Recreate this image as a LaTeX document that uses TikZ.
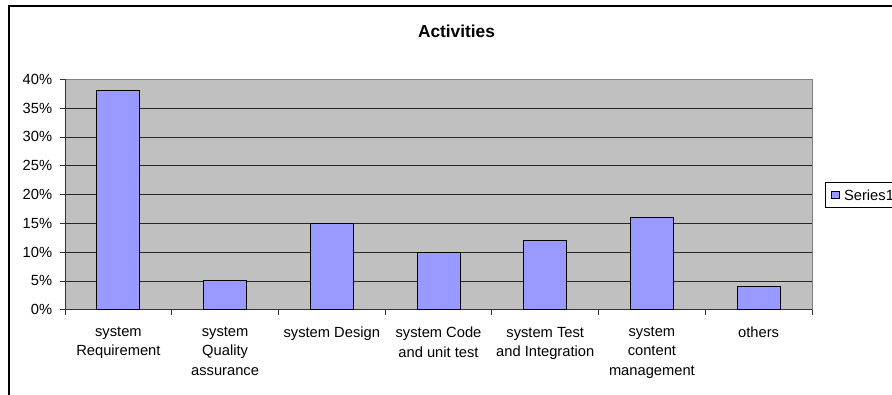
\documentclass[tikz,border=0pt]{standalone}
\usepackage{fontspec}
\setmainfont{Liberation Sans}
\usetikzlibrary{positioning}

\definecolor{plotgray}{HTML}{C0C0C0}
\definecolor{plotedge}{HTML}{808080}
\definecolor{barblue}{HTML}{9999FF}

\begin{document}
\begin{tikzpicture}
        [x=1pt,y=-1pt,
        bar/.style={draw=black,fill=barblue,line width=0.9pt},
        grid line/.style={draw=black!85,line width=0.8pt},
        cat label/.style={align=center,anchor=north,inner sep=0pt,font=\fontsize{14.7}{19.2}\selectfont,execute at begin node=\vphantom{A}},
        pct label/.style={anchor=east,inner sep=0pt,font=\fontsize{14.7}{16}\selectfont}]

    \clip (0,0) rectangle (892,394);
    \useasboundingbox (0,0) rectangle (892,394);
    \fill[white] (0,0) rectangle (892,394);

    % chart frame
    \draw[line width=1.4pt] (9,420) -- (9,6) -- (920,6);

    \node[anchor=base,inner sep=0pt,font=\bfseries\fontsize{17.3}{20}\selectfont] (title) at (456.5,37.3) {Activities};

    % plot area
    \draw[fill=plotgray,draw=plotedge,line width=0.9pt] (65,79.3) rectangle (812,309.7);
    \foreach \k in {1,...,7}
        \draw[grid line] (65,309.7-28.8*\k) -- (812,309.7-28.8*\k);

    % axes and ticks
    \draw[black!80,line width=0.8pt] (65,79.3) -- (65,309.7) -- (812,309.7);
    \foreach \k/\t in {0/0\%,1/5\%,2/10\%,3/15\%,4/20\%,5/25\%,6/30\%,7/35\%,8/40\%} {
        \draw[black!80,line width=0.8pt] (60,309.7-28.8*\k) -- (65,309.7-28.8*\k);
        \node[pct label] (p\k) at (52.3,309.7-28.8*\k) {\t};
    }
    \foreach \k in {0,...,7}
        \draw[black!80,line width=0.8pt] (65+106.71*\k,309.7) -- (65+106.71*\k,314.5);

    % bars
    \draw[bar] (96.9,309.7) rectangle (139.9,90.8);
    \draw[bar] (203.6,309.7) rectangle (246.6,280.9);
    \draw[bar] (310.3,309.7) rectangle (353.3,223.3);
    \draw[bar] (417.0,309.7) rectangle (460.0,252.1);
    \draw[bar] (523.7,309.7) rectangle (566.7,240.6);
    \draw[bar] (630.4,309.7) rectangle (673.4,217.5);
    \draw[bar] (737.1,309.7) rectangle (780.1,286.7);

    % category labels
    \node[cat label] (c1) at (118.4,327) {system\\Requirement};
    \node[cat label] (c2) at (225.1,327) {system\\Quality\\assurance};
    \node[cat label] (c3) at (331.8,327) {system Design};
    \node[cat label] (c4) at (438.5,327) {system Code\\and unit test};
    \node[cat label] (c5) at (545.2,327) {system Test\\and Integration};
    \node[cat label] (c6) at (651.9,327) {system\\content\\management};
    \node[cat label] (c7) at (758.6,327) {others};

    % legend
    \draw[fill=white,line width=0.8pt] (825,182) rectangle (910,207);
    \node[draw=black,fill=barblue,line width=0.7pt,minimum size=7.5pt,inner sep=0pt] (mark) at (835.3,195) {};
    \node[right=4.5pt of mark,inner sep=0pt,font=\fontsize{14.7}{16}\selectfont] (series) {Series1};

\end{tikzpicture}
\end{document}
